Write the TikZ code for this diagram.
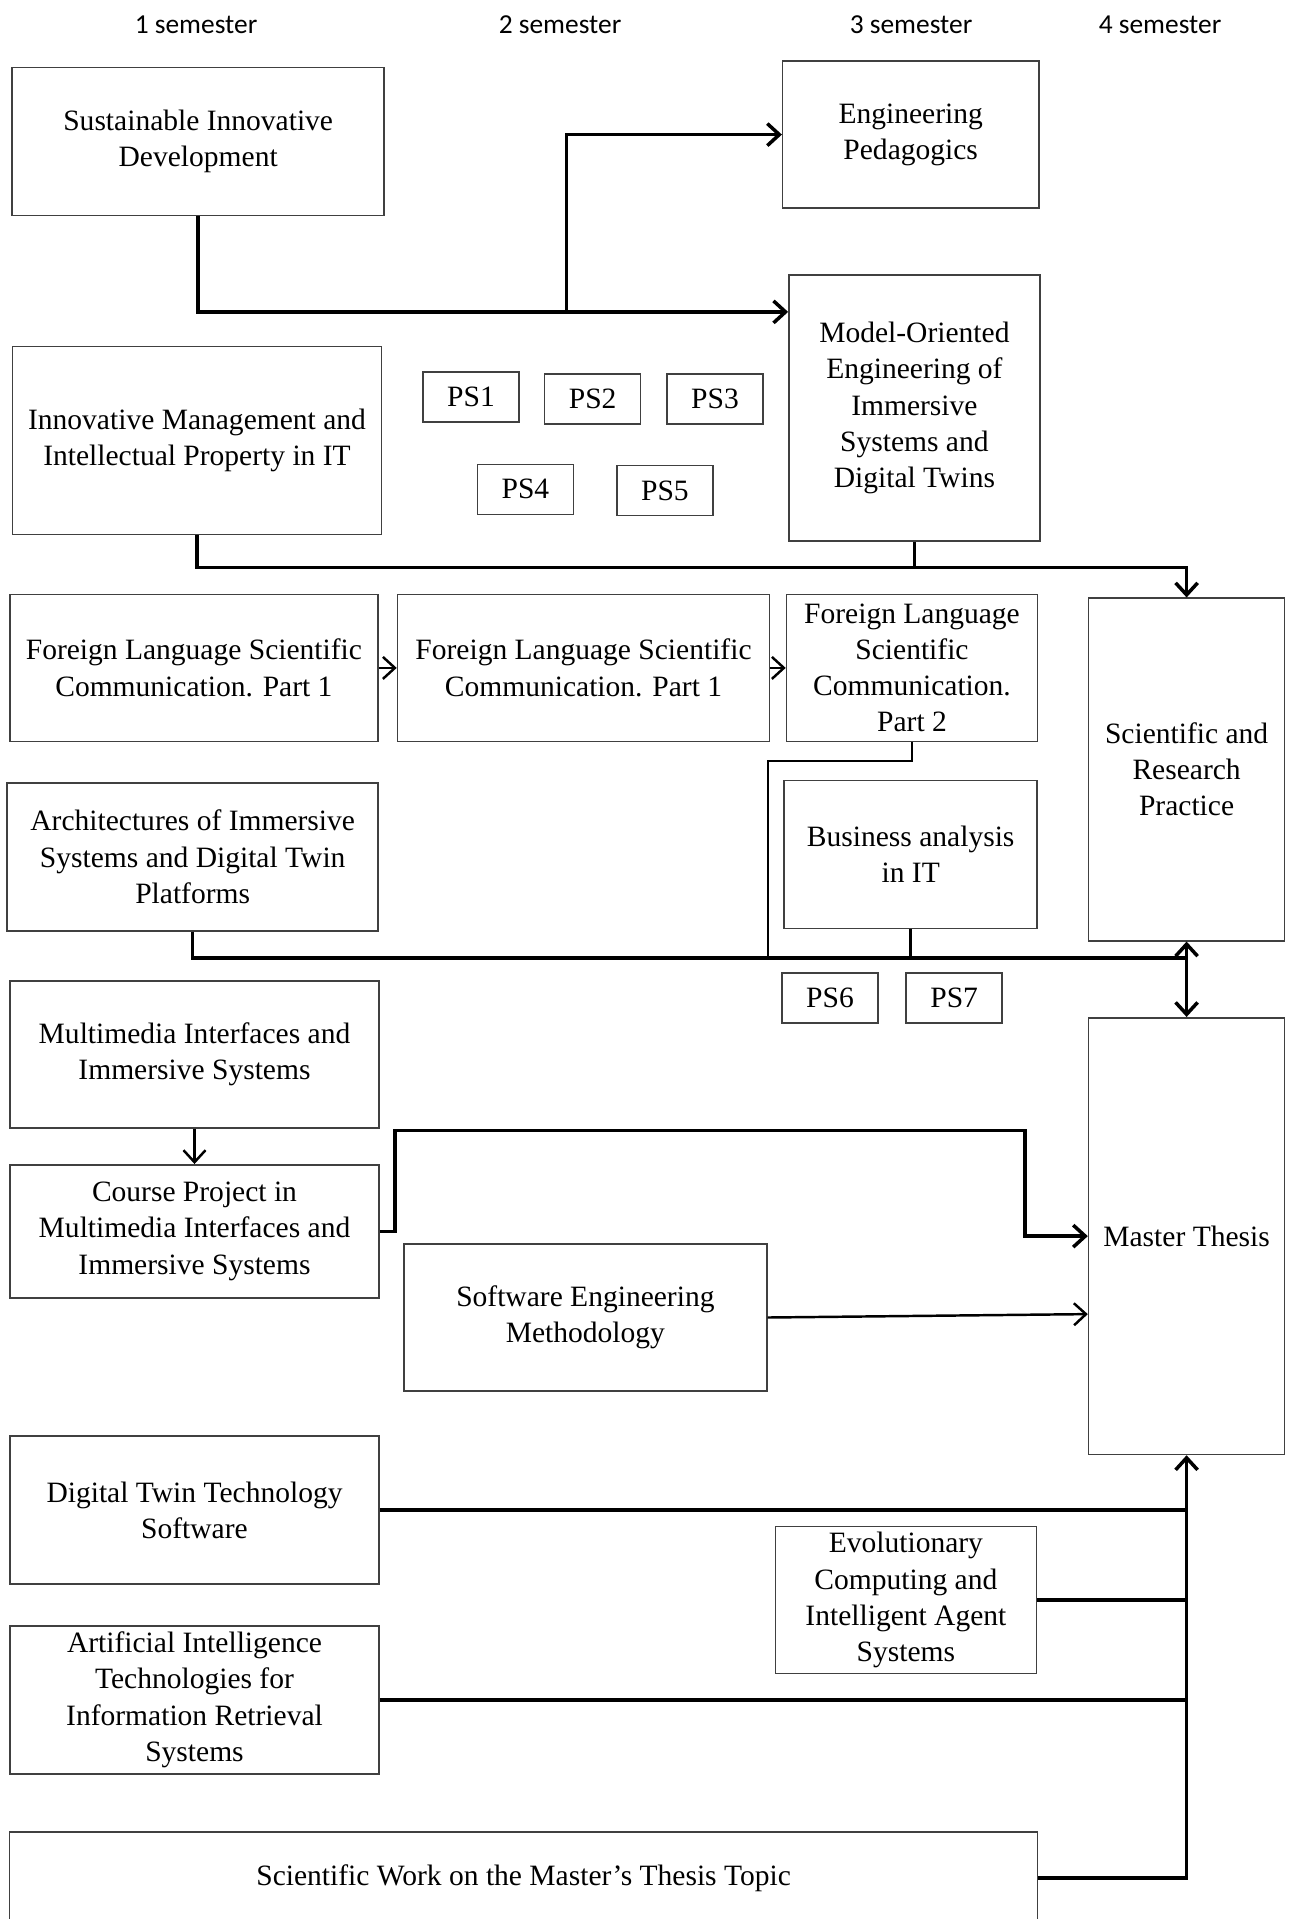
\documentclass[tikz,border=0pt]{standalone}
\usepackage{fontspec}
\setmainfont{Liberation Serif}
\newfontfamily\semfont{Carlito}
\usetikzlibrary{arrows.meta}

\begin{document}
\begin{tikzpicture}[
            > = {Straight Barb[length=1.2mm, width=2.2mm]}, % arrow head style
            link/.style = {line width=1pt},
            thinlink/.style = {line width=0.7pt},
            semithick % line style
        ]

        \tikzstyle{course}=[
            draw = black!75,
            line width = 0.45pt,
            fill = white,
            align = center,
            inner sep = 0pt,
            font = \fontsize{8.4}{10.3}\selectfont
        ]
        \tikzstyle{ps}=[
            course,
            minimum width = 0.96cm,
            minimum height = 0.5cm
        ]

        \useasboundingbox (0,0) rectangle (12.93,-19.19);

        % semesters
        \node[font=\semfont\fontsize{7.8}{9}\selectfont] (sem1) at (1.96,-0.25)  {1 semester};
        \node[font=\semfont\fontsize{7.8}{9}\selectfont] (sem2) at (5.60,-0.25)  {2 semester};
        \node[font=\semfont\fontsize{7.8}{9}\selectfont] (sem3) at (9.11,-0.25)  {3 semester};
        \node[font=\semfont\fontsize{7.8}{9}\selectfont] (sem4) at (11.60,-0.25) {4 semester};

        \node[course, minimum width=3.72cm, minimum height=1.48cm] (sid) at (1.982,-1.413)
            {Sustainable Innovative\\Development};
        \node[course, minimum width=2.56cm, minimum height=1.47cm] (ep) at (9.107,-1.346)
            {Engineering\\Pedagogics};
        \node[course, minimum width=2.51cm, minimum height=2.655cm] (moe) at (9.144,-4.080)
            {Model-Oriented\\Engineering of\\Immersive\\Systems and\\Digital Twins};
        \node[course, minimum width=3.69cm, minimum height=1.88cm] (imip) at (1.970,-4.404)
            {Innovative Management and\\Intellectual Property in IT};

        \node[ps] (ps1) at (4.710,-3.970) {PS1};
        \node[ps] (ps2) at (5.927,-3.988) {PS2};
        \node[ps] (ps3) at (7.150,-3.988) {PS3};
        \node[ps] (ps4) at (5.254,-4.893) {PS4};
        \node[ps] (ps5) at (6.649,-4.905) {PS5};

        \node[course, minimum width=3.68cm, minimum height=1.47cm] (fl1) at (1.939,-6.679)
            {Foreign Language Scientific\\Communication. Part 1};
        \node[course, minimum width=3.72cm, minimum height=1.47cm] (fl1b) at (5.835,-6.679)
            {Foreign Language Scientific\\Communication. Part 1};
        \node[course, minimum width=2.51cm, minimum height=1.47cm] (fl2) at (9.120,-6.679)
            {Foreign Language\\Scientific\\Communication.\\Part 2};
        \node[course, minimum width=1.96cm, minimum height=3.425cm] (srp) at (11.866,-7.695)
            {Scientific and\\Research\\Practice};

        \node[course, minimum width=3.71cm, minimum height=1.48cm] (aist) at (1.927,-8.569)
            {Architectures of Immersive\\Systems and Digital Twin\\Platforms};
        \node[course, minimum width=2.53cm, minimum height=1.48cm] (ba) at (9.107,-8.545)
            {Business analysis\\in IT};

        \node[ps] (ps6) at (8.300,-9.982) {PS6};
        \node[ps] (ps7) at (9.542,-9.982) {PS7};

        \node[course, minimum width=1.96cm, minimum height=4.367cm] (mt) at (11.866,-12.361)
            {Master Thesis};

        \node[course, minimum width=3.69cm, minimum height=1.47cm] (mis) at (1.945,-10.545)
            {Multimedia Interfaces and\\Immersive Systems};
        \node[course, minimum width=3.69cm, minimum height=1.33cm] (cp) at (1.945,-12.313)
            {Course Project in\\Multimedia Interfaces and\\Immersive Systems};
        \node[course, minimum width=3.63cm, minimum height=1.47cm] (sem) at (5.854,-13.175)
            {Software Engineering\\Methodology};

        \node[course, minimum width=3.69cm, minimum height=1.48cm] (dtts) at (1.945,-15.102)
            {Digital Twin Technology\\Software};
        \node[course, minimum width=2.61cm, minimum height=1.47cm] (ecia) at (9.059,-16.001)
            {Evolutionary\\Computing and\\Intelligent Agent\\Systems};
        \node[course, minimum width=3.69cm, minimum height=1.48cm] (aitir) at (1.945,-16.998)
            {Artificial Intelligence\\Technologies for\\Information Retrieval\\Systems};
        \node[course, minimum width=10.28cm, minimum height=0.92cm] (swmt) at (5.236,-18.778)
            {Scientific Work on the Master’s Thesis Topic};

        % bends of the connectors
        \coordinate (b1) at (5.664,-3.119);
        \coordinate (b2) at (0,-5.676);
        \coordinate (b3) at (7.682,-7.609);
        \coordinate (b4) at (0,-9.578);
        \coordinate (b5) at (3.951,-11.303);
        \coordinate (b6) at (10.251,-11.303);

        \draw[link, ->] (sid.south) |- (moe.west |- b1);
        \draw[link, ->] (b1) |- (ep.west);

        \draw[link, ->] (imip.south) |- (srp.north |- b2) -- (srp.north);
        \draw[thinlink] (moe.south) -- (moe.south |- b2);

        \draw[thinlink, ->] (fl1.east) -- (fl1b.west);
        \draw[thinlink, ->] (fl1b.east) -- (fl2.west);

        \draw[thinlink] (fl2.south) |- (b3) -- (b3 |- b4);
        \draw[link] (aist.south) |- (srp.south |- b4);
        \draw[thinlink] (ba.south) -- (ba.south |- b4);
        \draw[link, <->] (srp.south) -- (mt.north);

        \draw[thinlink, ->] (mis.south) -- (cp.north);
        \draw[link, ->] (cp.east) -| (b5) -- (b6) |- (mt.west);
        \draw[thinlink, ->] (sem.east) -- ([yshift=-0.78cm]mt.west);

        \draw[link] (dtts.east) -- (mt.south |- dtts.east);
        \draw[link] (ecia.east) -- (mt.south |- ecia.east);
        \draw[link] (aitir.east) -- (mt.south |- aitir.east);
        \draw[link, ->] (swmt.east) -| (mt.south);
        %\draw[link] (swmt.south) -- ++(0,-0.2);
    \end{tikzpicture}
\end{document}
